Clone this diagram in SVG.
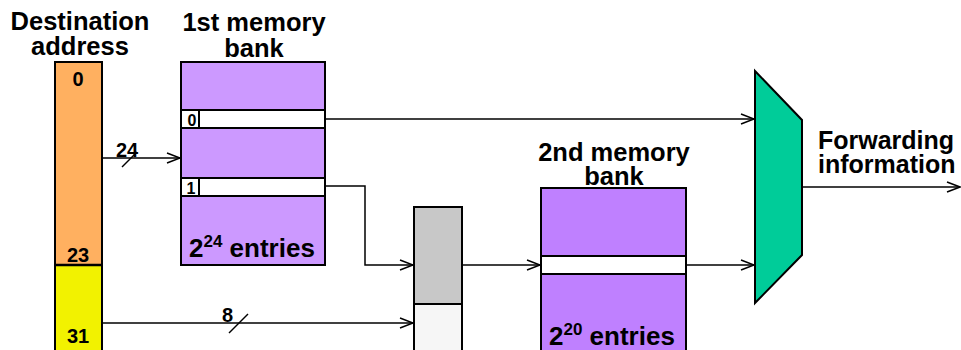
<svg xmlns="http://www.w3.org/2000/svg" width="961" height="350" viewBox="0 0 961 350">
<defs>
<style>
text{font-family:"Liberation Sans",Arial,sans-serif;font-weight:bold;fill:#000}
.t{font-size:25.5px;text-anchor:middle}
.f{font-size:25px}
.n{font-size:20px;text-anchor:middle}
.s{font-size:16px;text-anchor:middle}
.e{font-size:26px}
.box{stroke:#000;stroke-width:2}
.ln{fill:none;stroke:#000;stroke-width:1.5}
</style>
<marker id="ah" markerWidth="16" markerHeight="12" refX="14" refY="6" orient="auto" markerUnits="userSpaceOnUse">
<path d="M1,1 L14,6 L1,11" fill="none" stroke="#000" stroke-width="1.5"/>
</marker>
</defs>
<rect width="961" height="350" fill="#fff"/>
<g id="dest">
<text class="t" x="80" y="30">Destination</text>
<text class="t" x="80" y="55">address</text>
<rect class="box" x="55" y="62" width="47" height="203" fill="#FFB060" stroke="#555"/>
<rect class="box" x="55" y="265" width="47" height="90" fill="#F2F200" stroke="#555"/>
<line x1="55" y1="265" x2="102" y2="265" stroke="#000" stroke-width="2.5"/>
<text class="n" x="78" y="86">0</text>
<text class="n" x="78" y="262">23</text>
<text class="n" x="78" y="343">31</text>
</g>
<g id="bank1">
<text class="t" x="254" y="31">1st memory</text>
<text class="t" x="254" y="57">bank</text>
<rect class="box" x="181" y="62" width="144" height="203" fill="#CC99FF"/>
<rect class="box" x="181" y="110" width="144" height="18" fill="#fff"/>
<rect class="box" x="181" y="110" width="18" height="18" fill="#fff"/>
<text class="s" x="192" y="126">0</text>
<rect class="box" x="181" y="178" width="144" height="18" fill="#fff"/>
<rect class="box" x="181" y="178" width="18" height="18" fill="#fff"/>
<text class="s" x="191" y="194">1</text>
<text class="e" x="189" y="257">2<tspan font-size="17" dy="-10">24</tspan><tspan dy="10"> entries</tspan></text>
</g>
<g id="reg">
<rect class="box" x="414" y="207" width="48" height="97" fill="#C8C8C8"/>
<rect class="box" x="414" y="304" width="48" height="50" fill="#F6F6F6"/>
</g>
<g id="bank2">
<text class="t" x="614" y="161">2nd memory</text>
<text class="t" x="614" y="185">bank</text>
<rect class="box" x="541" y="188" width="145" height="166" fill="#BF80FF"/>
<rect class="box" x="541" y="256" width="145" height="18" fill="#fff"/>
<text class="e" x="549" y="345">2<tspan font-size="17" dy="-10">20</tspan><tspan dy="10"> entries</tspan></text>
</g>
<g id="mux">
<polygon points="755,71 802,120 802,255 755,303" fill="#00CC99" stroke="#000" stroke-width="2"/>
</g>
<g id="out">
<text class="f" x="818" y="149">Forwarding</text>
<text class="f" x="818" y="173">information</text>
</g>
<g id="connectors">
<line class="ln" x1="102" y1="158" x2="180" y2="158" marker-end="url(#ah)"/>
<line class="ln" x1="122" y1="167" x2="137" y2="152"/>
<text x="116" y="157" font-size="20">24</text>
<line class="ln" x1="102" y1="323" x2="413" y2="323" marker-end="url(#ah)"/>
<line class="ln" x1="229" y1="333" x2="248" y2="314"/>
<text x="222" y="322" font-size="20">8</text>
<line class="ln" x1="326" y1="119" x2="754" y2="119" marker-end="url(#ah)"/>
<polyline class="ln" points="326,186 365,186 365,265 413,265" marker-end="url(#ah)"/>
<line class="ln" x1="463" y1="265" x2="540" y2="265" marker-end="url(#ah)"/>
<line class="ln" x1="687" y1="265" x2="754" y2="265" marker-end="url(#ah)"/>
<line class="ln" x1="803" y1="187" x2="960" y2="187" marker-end="url(#ah)"/>
</g>
</svg>
